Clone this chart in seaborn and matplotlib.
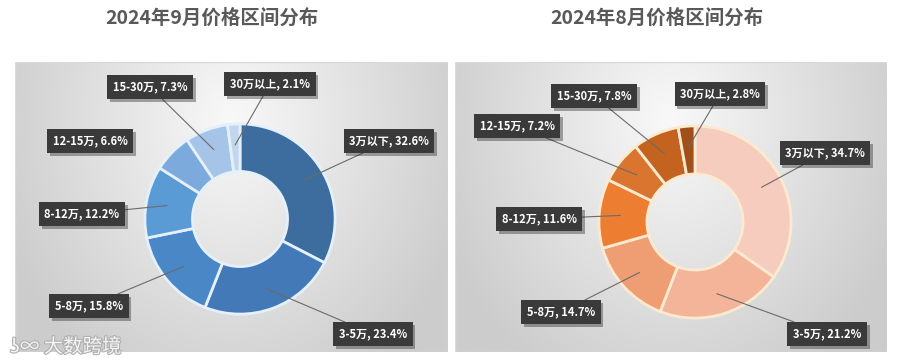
import numpy as np
import matplotlib
matplotlib.use("Agg")
import matplotlib.pyplot as plt
import matplotlib.patheffects as pe
import seaborn as sns

# Data
categories = ['3万以下', '3-5万', '5-8万', '8-12万', '12-15万', '15-30万', '30万以上']
sep_share = [32.6, 23.4, 15.8, 12.2, 6.6, 7.3, 2.1]
aug_share = [34.7, 21.2, 14.7, 11.6, 7.2, 7.8, 2.8]
titles = ['2024年9月价格区间分布', '2024年8月价格区间分布']

sep_colors = ['#3D6D9E', '#4279B6', '#4A87C6', '#5A9BD6', '#7DAADC', '#A6C4E7', '#C3D6EE']
aug_colors = ['#F6CCBE', '#F3B49A', '#EF9D72', '#EC7D31', '#DA7530', '#C4631F', '#A1501B']

sns.set_theme(style='white')
plt.rcParams['font.family'] = ['Noto Sans CJK SC', 'DejaVu Sans']

W, H = 897, 364
fig = plt.figure(figsize=(W / 100, H / 100), dpi=100)
fig.patch.set_facecolor('white')


def fig_frac(x, y):
    # pixel coords measured from top-left -> figure fraction
    return x / W, 1 - y / H


def panel_bg(x0, y0, x1, y1):
    ax = fig.add_axes([x0 / W, 1 - y1 / H, (x1 - x0) / W, (y1 - y0) / H])
    nx, ny = 200, 120
    xx, yy = np.meshgrid(np.linspace(-1, 1, nx), np.linspace(0, 1, ny))
    d = np.sqrt((xx / 1.05) ** 2 + ((yy - 0.2) / 0.95) ** 2)
    v = np.clip(0.975 - 0.16 * d, 0.80, 0.975)
    ax.imshow(np.dstack([v, v, v]), aspect='auto', extent=[0, 1, 1, 0])
    ax.set_xlim(0, 1)
    ax.set_ylim(1, 0)
    ax.axis('off')
    ax.add_patch(plt.Rectangle((0, 0), 1, 1, fill=False, ec='#D9D9D9', lw=1.0,
                               transform=ax.transAxes))


# label boxes: center (x, y) in pixels from top-left
sep_labels = [(389, 141), (373, 334), (89, 306), (82, 214), (90, 141), (150, 87), (270, 84)]
aug_labels = [(825, 153), (827, 334), (561, 312), (539, 219), (517, 126), (594, 96), (720, 94)]
sep_leader = [True, True, True, True, False, True, True]
aug_leader = [True, True, True, True, True, True, True]

panels = [
    dict(box=(15, 62, 447, 352), center=(240, 219), r=97, title_x=212,
         share=sep_share, colors=sep_colors, edge='#E4F0FB', labels=sep_labels,
         leader=sep_leader, title=titles[0]),
    dict(box=(455, 62, 887, 352), center=(695, 222), r=98, title_x=657,
         share=aug_share, colors=aug_colors, edge='#FCEAD0', labels=aug_labels,
         leader=aug_leader, title=titles[1]),
]

for p in panels:
    panel_bg(*p['box'])
    cx, cy = p['center']
    r = p['r']
    ax = fig.add_axes([(cx - r) / W, 1 - (cy + r) / H, 2 * r / W, 2 * r / H])
    wedges, _ = ax.pie(p['share'], colors=p['colors'], startangle=90, counterclock=False,
                       radius=1.0,
                       wedgeprops=dict(width=0.5, edgecolor=p['edge'], linewidth=2))
    ax.set_xlim(-1.02, 1.02)
    ax.set_ylim(-1.02, 1.02)
    ax.axis('off')

    for i, w in enumerate(wedges):
        ang = np.deg2rad((w.theta1 + w.theta2) / 2)
        xy = (0.78 * np.cos(ang), 0.78 * np.sin(ang))
        txt = f"{categories[i]}, {p['share'][i]:.1f}%"
        lx, ly = p['labels'][i]
        ann = ax.annotate(
            txt, xy=xy, xycoords='data',
            xytext=fig_frac(lx, ly), textcoords='figure fraction',
            ha='center', va='center', fontsize=8, fontweight='bold', color='white',
            bbox=dict(boxstyle='square,pad=0.5', fc='#3A3A3A', ec='none'),
            arrowprops=dict(arrowstyle='-', color='#6B6B6B', lw=0.8, shrinkA=0, shrinkB=0)
            if p['leader'][i] else None,
            annotation_clip=False, zorder=5)
        ann.get_bbox_patch().set_path_effects(
            [pe.SimplePatchShadow(offset=(2, -2), alpha=0.35), pe.Normal()])

    tx, ty = fig_frac(p['title_x'], 18)
    fig.text(tx, ty, p['title'], ha='center', va='center', fontsize=14,
             fontweight='bold', color='#595959')

# watermark
wx, wy = fig_frac(10, 347)
wm = fig.text(wx, wy, 'ʖ∞ 大数跨境', ha='left', va='center', fontsize=14,
              color='#F4F4F4', zorder=10)
wm.set_path_effects([pe.withStroke(linewidth=1.6, foreground='#B0B0B0')])

fig.savefig('out.png', dpi=100)
